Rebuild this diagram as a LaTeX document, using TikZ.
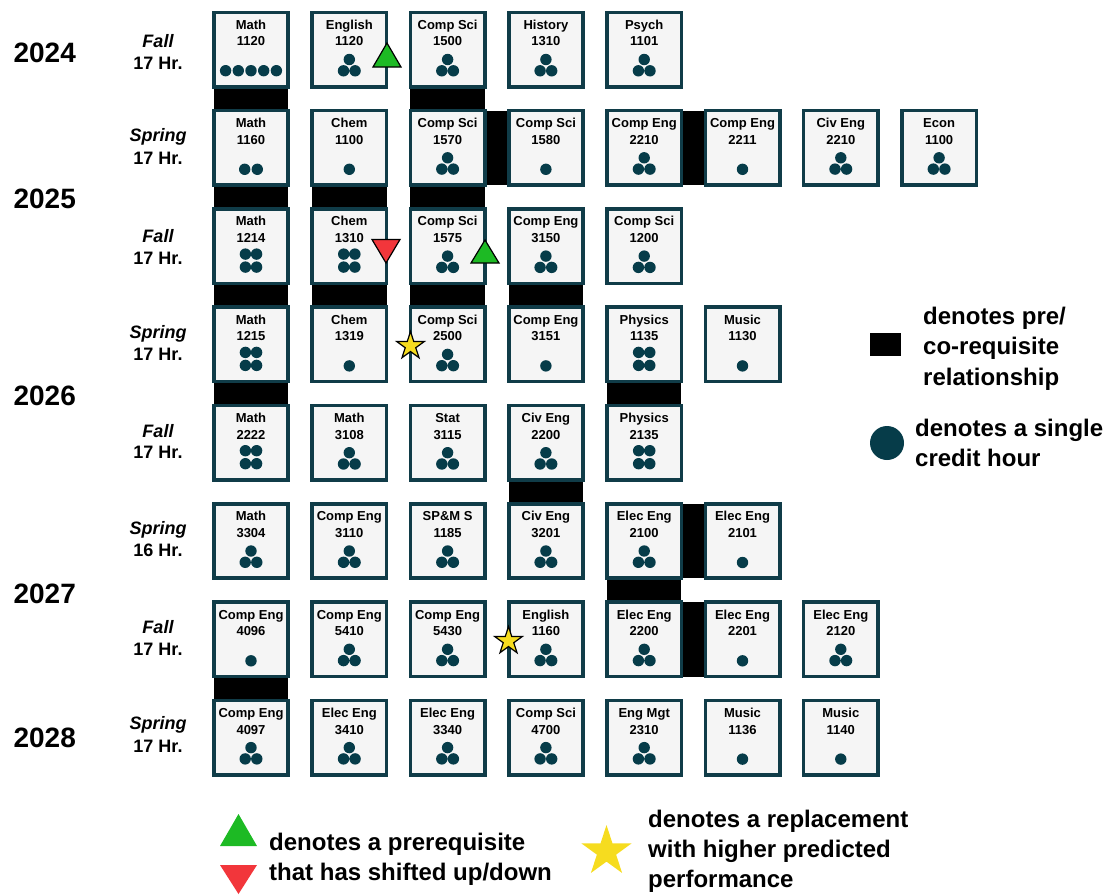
\documentclass[tikz,border=0pt]{standalone}
\usepackage{fontspec}
\setmainfont{Liberation Sans}
\usetikzlibrary{shapes.geometric,backgrounds}

\definecolor{boxc}{HTML}{103C48}
\definecolor{boxf}{HTML}{F5F5F5}
\definecolor{dotc}{HTML}{063C49}
\definecolor{upgreen}{HTML}{1DBA24}
\definecolor{downred}{HTML}{F2363B}
\definecolor{staryel}{HTML}{F6DC1F}

\tikzset{
  cbox/.style={rectangle, draw=boxc, line width=3.6pt, fill=boxf,
    minimum size=74.4pt, inner sep=0pt, outer sep=0pt},
  ctext/.style={anchor=base, inner sep=0pt, font=\bfseries\fontsize{13}{15}\selectfont},
  dot/.style={fill=dotc},
  link/.style={fill=black},
  yearlab/.style={anchor=base, inner sep=0pt, font=\bfseries\fontsize{28}{32}\selectfont},
  semlab/.style={anchor=base, inner sep=0pt, font=\bfseries\itshape\fontsize{18}{21}\selectfont},
  hrlab/.style={anchor=base, inner sep=0pt, font=\bfseries\fontsize{18}{21}\selectfont},
  legtext/.style={anchor=base west, inner sep=0pt, font=\bfseries\fontsize{24}{30}\selectfont},
  upmark/.style={fill=upgreen, draw=black, line width=1.2pt, line join=miter},
  downmark/.style={fill=downred, draw=black, line width=1.2pt, line join=miter},
  starmark/.style={star, star points=5, star point ratio=2.618, fill=staryel,
    draw=black, line width=1.2pt, inner sep=0pt, minimum size=29pt},
}

% credit-hour dots below the course text
\newcommand\crsdots[1]{%
  \ifcase#1\or
    \fill[dot] (\crsx,\crsy+21.5) circle (5.7pt);%
  \or
    \fill[dot] (\crsx-6.3,\crsy+21.5) circle (5.7pt) (\crsx+6.3,\crsy+21.5) circle (5.7pt);%
  \or
    \fill[dot] (\crsx,\crsy+10) circle (5.7pt) (\crsx-5.8,\crsy+21.3) circle (5.7pt)
      (\crsx+5.8,\crsy+21.3) circle (5.7pt);%
  \or
    \fill[dot] (\crsx-5.6,\crsy+8) circle (5.7pt) (\crsx+5.6,\crsy+8) circle (5.7pt)
      (\crsx-5.6,\crsy+21) circle (5.7pt) (\crsx+5.6,\crsy+21) circle (5.7pt);%
  \or
    \foreach \k in {-2,...,2}{\fill[dot] (\crsx+12.7*\k,\crsy+21.2) circle (5.7pt);}%
  \fi}

% \course{row}{col}{subject}{number}{credit hours}
\newcommand\course[5]{%
  \pgfmathsetmacro\crsx{251+98.3*(#2-1)}%
  \pgfmathsetmacro\crsy{49.5+98.3*(#1-1)}%
  \node[cbox] (r#1c#2) at (\crsx,\crsy) {};
  \node[ctext] (r#1c#2a) at (\crsx,\crsy-20.2) {#3};
  \node[ctext] (r#1c#2b) at (\crsx,\crsy-3.6) {#4};
  \crsdots{#5}}

% \semester{name}{cap centre of line 1}{hours}{cap centre of line 2}{id}
\newcommand\semester[5]{%
  \node[semlab] (sem#5) at (158,#2+6.4) {#1};
  \node[hrlab] (hr#5) at (158,#4+6.4) {#3};}

\begin{document}
\begin{tikzpicture}[x=1pt,y=-1pt]
\useasboundingbox (0,0) rectangle (1116,894);

% years
\node[yearlab] (y2024) at (44.7,62) {2024};
\node[yearlab] (y2025) at (44.7,208) {2025};
\node[yearlab] (y2026) at (44.7,405) {2026};
\node[yearlab] (y2027) at (44.7,603) {2027};
\node[yearlab] (y2028) at (44.7,747) {2028};

% semesters
\semester{Fall}{40.7}{17 Hr.}{63}{1}
\semester{Spring}{135}{17 Hr.}{158}{2}
\semester{Fall}{236}{17 Hr.}{258}{3}
\semester{Spring}{332}{17 Hr.}{354}{4}
\semester{Fall}{431}{17 Hr.}{452}{5}
\semester{Spring}{528}{16 Hr.}{550}{6}
\semester{Fall}{627}{17 Hr.}{649}{7}
\semester{Spring}{723}{17 Hr.}{746}{8}

% courses
\course{1}{1}{Math}{1120}{5}
\course{1}{2}{English}{1120}{3}
\course{1}{3}{Comp Sci}{1500}{3}
\course{1}{4}{History}{1310}{3}
\course{1}{5}{Psych}{1101}{3}

\course{2}{1}{Math}{1160}{2}
\course{2}{2}{Chem}{1100}{1}
\course{2}{3}{Comp Sci}{1570}{3}
\course{2}{4}{Comp Sci}{1580}{1}
\course{2}{5}{Comp Eng}{2210}{3}
\course{2}{6}{Comp Eng}{2211}{1}
\course{2}{7}{Civ Eng}{2210}{3}
\course{2}{8}{Econ}{1100}{3}

\course{3}{1}{Math}{1214}{4}
\course{3}{2}{Chem}{1310}{4}
\course{3}{3}{Comp Sci}{1575}{3}
\course{3}{4}{Comp Eng}{3150}{3}
\course{3}{5}{Comp Sci}{1200}{3}

\course{4}{1}{Math}{1215}{4}
\course{4}{2}{Chem}{1319}{1}
\course{4}{3}{Comp Sci}{2500}{3}
\course{4}{4}{Comp Eng}{3151}{1}
\course{4}{5}{Physics}{1135}{4}
\course{4}{6}{Music}{1130}{1}

\course{5}{1}{Math}{2222}{4}
\course{5}{2}{Math}{3108}{3}
\course{5}{3}{Stat}{3115}{3}
\course{5}{4}{Civ Eng}{2200}{3}
\course{5}{5}{Physics}{2135}{4}

\course{6}{1}{Math}{3304}{3}
\course{6}{2}{Comp Eng}{3110}{3}
\course{6}{3}{SP\&M S}{1185}{3}
\course{6}{4}{Civ Eng}{3201}{3}
\course{6}{5}{Elec Eng}{2100}{3}
\course{6}{6}{Elec Eng}{2101}{1}

\course{7}{1}{Comp Eng}{4096}{1}
\course{7}{2}{Comp Eng}{5410}{3}
\course{7}{3}{Comp Eng}{5430}{3}
\course{7}{4}{English}{1160}{3}
\course{7}{5}{Elec Eng}{2200}{3}
\course{7}{6}{Elec Eng}{2201}{1}
\course{7}{7}{Elec Eng}{2120}{3}

\course{8}{1}{Comp Eng}{4097}{3}
\course{8}{2}{Elec Eng}{3410}{3}
\course{8}{3}{Elec Eng}{3340}{3}
\course{8}{4}{Comp Sci}{4700}{3}
\course{8}{5}{Eng Mgt}{2310}{3}
\course{8}{6}{Music}{1136}{1}
\course{8}{7}{Music}{1140}{1}

% pre/co-requisite links, behind the boxes
\begin{pgfonlayer}{background}
  \foreach \a/\b in {r1c1/r2c1, r1c3/r2c3, r2c1/r3c1, r2c2/r3c2, r2c3/r3c3,
      r3c1/r4c1, r3c2/r4c2, r3c3/r4c3, r3c4/r4c4, r4c1/r5c1, r4c5/r5c5,
      r5c4/r6c4, r6c5/r7c5, r7c1/r8c1}
    \fill[link] (\a.south west) rectangle (\b.north east);
  \foreach \a/\b in {r2c3/r2c4, r2c5/r2c6, r6c5/r6c6, r7c5/r7c6}
    \fill[link] (\a.north east) rectangle (\b.south west);
\end{pgfonlayer}

% shifted prerequisites
\draw[upmark] (373,67) -- (387,43) -- (401,67) -- cycle;
\draw[downmark] (372,239.5) -- (400,239.5) -- (386,263) -- cycle;
\draw[upmark] (471,263) -- (485,240) -- (499,263) -- cycle;

% replacements
\node[starmark] (star1) at (410.5,346) {};
\node[starmark] (star2) at (508.5,641) {};

% legend: links and credit hours
\node[fill=black, minimum width=31pt, minimum height=23pt, inner sep=0pt] (legsq) at (885.5,344.5) {};
\node[legtext] (legsq1) at (923,324) {denotes pre/};
\node[legtext] (legsq2) at (923,354.5) {co-requisite};
\node[legtext] (legsq3) at (923,385) {relationship};

\node[circle, fill=dotc, minimum size=34pt, inner sep=0pt] (legdot) at (887,443) {};
\node[legtext] (legdot1) at (915,436) {denotes a single};
\node[legtext] (legdot2) at (915,466) {credit hour};

% legend: shifts and replacements
\fill[upgreen] (220,846) -- (238.5,814) -- (257,846) -- cycle;
\fill[downred] (220,865) -- (257,865) -- (238.5,894) -- cycle;
\node[legtext] (legtri1) at (269,850) {denotes a prerequisite};
\node[legtext] (legtri2) at (269,880) {that has shifted up/down};

\node[star, star points=5, star point ratio=2.618, fill=staryel, inner sep=0pt,
  minimum size=53pt] (legstar) at (606.5,851.5) {};
\node[legtext] (legstar1) at (648,827) {denotes a replacement};
\node[legtext] (legstar2) at (648,857) {with higher predicted};
\node[legtext] (legstar3) at (648,887) {performance};
\end{tikzpicture}
\end{document}
